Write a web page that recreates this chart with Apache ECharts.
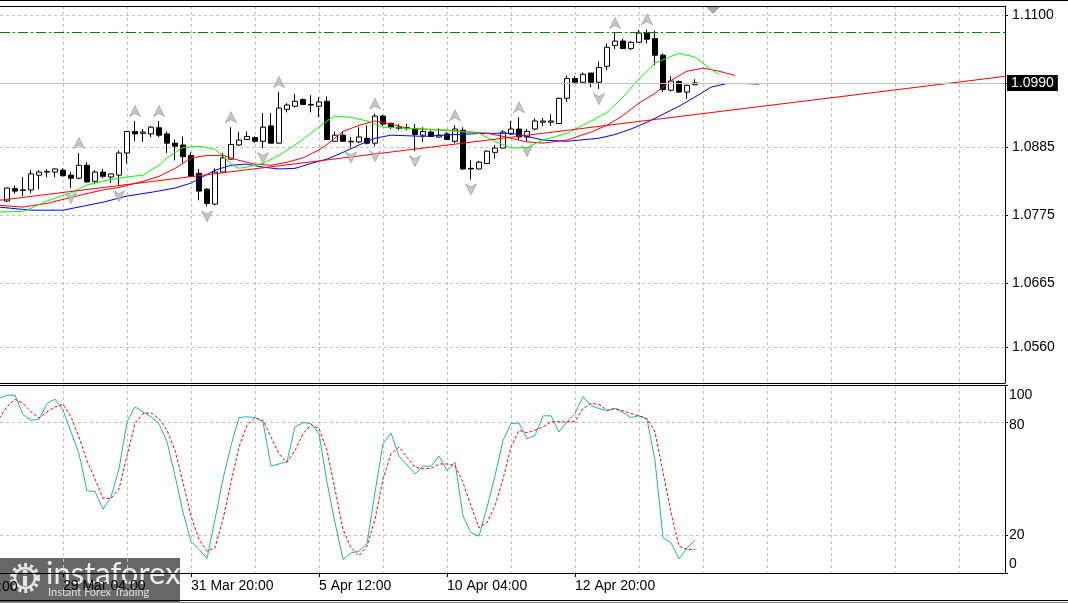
<!DOCTYPE html>
<html><head><meta charset="utf-8">
<script src="https://cdn.jsdelivr.net/npm/echarts@6/dist/echarts.min.js"></script>
<style>html,body{margin:0;padding:0;background:#fff}#c{width:1068px;height:603px}</style>
</head><body><div id="c"></div>
<script>
// ---- H4 candles (bar index 0..86) ----
const open = [
1.0798,1.0818,1.0815,1.0816,1.0840,1.0845,1.0845,1.0848,1.0840,1.0835,
1.0856,1.0830,1.0845,1.0837,1.0840,1.0876,1.0911,1.0908,1.0907,1.0917,
1.0907,1.0892,1.0889,1.0872,1.0843,1.0817,1.0793,1.0845,1.0866,1.0889,
1.0898,1.0901,1.0895,1.0920,1.0892,1.0947,1.0952,1.0963,1.0955,1.0952,
1.0960,1.0895,1.0905,1.0894,1.0894,1.0900,1.0892,1.0936,1.0924,1.0918,
1.0917,1.0916,1.0905,1.0910,1.0902,1.0907,1.0895,1.0913,1.0851,1.0850,
1.0859,1.0877,1.0884,1.0907,1.0915,1.0902,1.0915,1.0926,1.0926,1.0924,
1.0965,1.0997,1.0991,1.1006,1.0991,1.1017,1.1051,1.1058,1.1046,1.1056,
1.1071,1.1062,1.1035,1.0978,1.0992,1.0975,1.0987];
const high = [
1.0820,1.0823,1.0837,1.0848,1.0848,1.0850,1.0851,1.0851,1.0845,1.0876,
1.0861,1.0848,1.0850,1.0843,1.0880,1.0912,1.0928,1.0915,1.0920,1.0928,
1.0911,1.0898,1.0903,1.0877,1.0850,1.0819,1.0851,1.0876,1.0918,1.0910,
1.0911,1.0903,1.0941,1.0941,1.0975,1.0957,1.0972,1.0965,1.0970,1.0967,
1.0968,1.0911,1.0911,1.0902,1.0918,1.0921,1.0940,1.0938,1.0926,1.0923,
1.0923,1.0923,1.0918,1.0913,1.0916,1.0910,1.0921,1.0918,1.0864,1.0863,
1.0880,1.0889,1.0913,1.0928,1.0934,1.0915,1.0932,1.0933,1.0939,1.0966,
1.1002,1.1001,1.1007,1.1006,1.1025,1.1054,1.1071,1.1062,1.1058,1.1076,
1.1077,1.1075,1.1038,1.1001,1.0994,1.0987,1.0996];
const low = [
1.0796,1.0810,1.0806,1.0811,1.0817,1.0837,1.0837,1.0838,1.0819,1.0833,
1.0828,1.0825,1.0835,1.0827,1.0822,1.0859,1.0895,1.0894,1.0902,1.0902,
1.0876,1.0864,1.0859,1.0837,1.0799,1.0789,1.0791,1.0844,1.0865,1.0887,
1.0897,1.0892,1.0884,1.0891,1.0891,1.0942,1.0950,1.0954,1.0942,1.0934,
1.0897,1.0894,1.0894,1.0885,1.0892,1.0890,1.0887,1.0920,1.0915,1.0913,
1.0913,1.0879,1.0894,1.0902,1.0901,1.0897,1.0892,1.0849,1.0833,1.0849,
1.0858,1.0867,1.0883,1.0905,1.0897,1.0895,1.0913,1.0920,1.0920,1.0923,
1.0959,1.0989,1.0990,1.0983,1.0980,1.1011,1.1045,1.1045,1.1043,1.1055,
1.1054,1.1019,1.0975,1.0976,1.0974,1.0964,1.0986];
const close = [
1.0819,1.0814,1.0816,1.0842,1.0845,1.0846,1.0850,1.0839,1.0835,1.0856,
1.0829,1.0845,1.0838,1.0842,1.0876,1.0911,1.0907,1.0910,1.0918,1.0905,
1.0892,1.0887,1.0870,1.0838,1.0814,1.0794,1.0845,1.0868,1.0890,1.0897,
1.0903,1.0895,1.0918,1.0892,1.0949,1.0954,1.0960,1.0955,1.0954,1.0959,
1.0898,1.0905,1.0895,1.0895,1.0902,1.0892,1.0936,1.0923,1.0918,1.0916,
1.0916,1.0906,1.0911,1.0903,1.0905,1.0898,1.0915,1.0850,1.0850,1.0861,
1.0879,1.0884,1.0910,1.0915,1.0902,1.0911,1.0928,1.0928,1.0928,1.0965,
1.0997,1.0991,1.1004,1.0991,1.1015,1.1048,1.1058,1.1046,1.1056,1.1071,
1.1061,1.1035,1.0979,1.0993,1.0975,1.0986,1.0990];

// ---- Alligator (shifted lines) ----
const jawBars  = [-1,3,7,12,15,18,21,23,26,28,30,32,34,36,38,40,42,44,46,48,52,56,60,63,65,67,70,74,76,78,80,82,84,86,88,90,92,94];
const jawVals  = [1.0788,1.0783,1.0783,1.0796,1.0806,1.0812,1.0819,1.0827,1.0848,1.0856,1.0858,1.0853,1.0850,1.0851,1.0859,1.0866,1.0877,1.0889,1.0900,1.0905,1.0903,1.0906,1.0908,1.0908,1.0903,1.0897,1.0895,1.0900,1.0906,1.0915,1.0926,1.0939,1.0952,1.0967,1.0983,1.0989,1.0989,1.0988];
const teethBars = [-1,2,5,9,12,14,17,19,21,23,25,27,29,31,33,35,37,39,40,42,44,46,48,50,55,60,62,65,67,70,73,75,77,79,81,83,85,87,89,91];
const teethVals = [1.0791,1.0788,1.0794,1.0807,1.0816,1.0820,1.0830,1.0838,1.0851,1.0868,1.0872,1.0872,1.0864,1.0858,1.0856,1.0861,1.0868,1.0881,1.0890,1.0911,1.0921,1.0928,1.0923,1.0916,1.0913,1.0908,1.0903,1.0894,1.0892,1.0897,1.0910,1.0921,1.0937,1.0957,1.0973,1.0994,1.1009,1.1014,1.1009,1.1002];
const lipsBars = [-1,2,3,5,8,10,13,15,17,19,20,22,24,26,27,28,29,30,32,34,36,38,40,41,43,45,47,50,55,59,61,63,65,67,70,73,75,77,79,81,83,84,86,88,89];
const lipsVals = [1.0780,1.0781,1.0786,1.0798,1.0811,1.0824,1.0833,1.0837,1.0840,1.0856,1.0868,1.0885,1.0887,1.0882,1.0871,1.0858,1.0851,1.0853,1.0859,1.0872,1.0889,1.0908,1.0928,1.0936,1.0934,1.0928,1.0918,1.0916,1.0913,1.0908,1.0895,1.0884,1.0885,1.0897,1.0908,1.0928,1.0942,1.0967,1.0996,1.1022,1.1033,1.1038,1.1032,1.1012,1.1004];

// ---- drawn objects ----
const trendBars = [-1, 125];
const trendVals = [1.0799, 1.1001];
const levelPrice = 1.1072;
const bidPrice = 1.0990;
const fractalUpBars = [9,16,19,28,34,46,56,64,76,80];
const fractalDownBars = [8,14,25,32,43,46,51,58,65,74];

// ---- Stochastic (bar -1 .. 86) ----
const stochStart = -1;
const stochK = [
92.9,94.6,94.6,84.3,81.2,81.8,90.2,92.5,86.6,75.2,63.4,
43.7,43.4,33.9,40.4,55.4,80.4,88.4,85.7,83.1,79.5,
69.7,51.8,32.3,16.9,12.5,7.7,28.6,50.0,67.8,82.7,
83.1,82.7,80.4,56.8,58.0,59.3,77.7,80.0,79.5,74.1,
48.2,26.8,7.1,10.7,11.6,15.7,43.0,68.8,74.5,62.2,
57.5,52.7,56.8,56.8,62.2,54.4,58.9,30.3,21.4,19.6,
34.8,51.8,70.5,79.5,79.8,71.4,73.2,83.6,83.6,75.0,
80.4,84.8,93.8,89.0,87.5,86.3,87.5,85.4,82.7,83.6,
81.8,59.8,18.8,16.1,7.5,13.4,17.5];
const stochD = [
82.1,88.4,92.5,90.2,85.7,82.5,85.7,88.4,89.7,83.1,72.3,
59.8,50.0,39.7,39.7,44.6,62.5,79.5,84.8,85.2,82.1,
75.9,65.2,48.2,30.3,17.8,11.6,13.4,28.6,48.2,67.0,
78.6,82.5,81.2,72.3,63.4,58.9,65.2,74.1,78.9,76.8,
65.2,44.6,23.2,13.4,9.3,14.3,28.6,50.0,63.4,67.0,
61.6,56.3,55.4,55.7,58.0,58.0,57.1,48.2,35.7,24.1,
26.8,35.7,50.0,67.0,75.9,74.6,75.9,77.7,80.4,80.4,
80.4,80.7,87.5,90.2,89.7,86.6,87.5,86.3,84.8,83.6,
82.1,75.0,53.6,32.2,14.3,12.5,12.5];

// ---- axes ----
const priceTicks = [1.0560, 1.0665, 1.0775, 1.0885, 1.1100];
const stochTicks = [0, 20, 80, 100];
const gridBars = [7,15,23,31,39,47,55,63,71,79,87,95,103,111,119];
const timeLabelBars = [7,23,39,55,71];
const timeLabels = ['29 Mar 04:00','31 Mar 20:00','5 Apr 12:00','10 Apr 04:00','12 Apr 20:00'];
const hiddenFirstLabel = '24 Mar 12:00';

const FONT = "'Liberation Sans', Arial, sans-serif";
const xMin = -0.875, xMax = 124.75;
const gridDash = {color:'#c0c0c0', type:[3,3], width:1};

const candleData = open.map((o,i)=>[i, o, close[i], low[i], high[i]]);
const pairs = (xs, ys) => xs.map((x,i)=>[x, ys[i]]);
const stochPairs = arr => arr.map((v,j)=>[stochStart + j, v]);

const upPath = 'path://M5,0 L10,11 L5,8 L0,11 Z';
const dnPath = 'path://M0,0 L5,3 L10,0 L5,11 Z';

const chart = echarts.init(document.getElementById('c'), null, {renderer:'canvas'});
chart.setOption({
  animation: false,
  backgroundColor: '#fff',
  grid: [
    {left:0, right:63, top:6, height:377},
    {left:0, right:63, top:385, height:188}
  ],
  xAxis: [
    {gridIndex:0, type:'value', min:xMin, max:xMax,
     axisLine:{show:false, onZero:false}, axisLabel:{show:false},
     axisTick:{show:false, customValues:gridBars},
     splitLine:{show:true, lineStyle:gridDash}},
    {gridIndex:1, type:'value', min:xMin, max:xMax,
     axisLine:{show:false, onZero:false},
     axisTick:{show:false, customValues:gridBars},
     splitLine:{show:true, lineStyle:gridDash},
     axisLabel:{show:true, customValues:timeLabelBars, align:'left', margin:6,
       color:'#000', fontFamily:FONT, fontSize:14,
       formatter: v => timeLabels[timeLabelBars.indexOf(Math.round(v))] || ''}},
    {gridIndex:1, type:'value', min:xMin, max:xMax, position:'bottom',
     axisLine:{show:false, onZero:false}, axisLabel:{show:false}, splitLine:{show:false},
     axisTick:{show:true, customValues:timeLabelBars, length:4, lineStyle:{color:'#000'}}}
  ],
  yAxis: [
    {gridIndex:0, type:'value', position:'right', min:1.0502, max:1.1115, scale:true,
     axisLine:{show:true, onZero:false, lineStyle:{color:'#000'}},
     axisTick:{show:true, length:3, customValues:[...priceTicks, bidPrice], lineStyle:{color:'#000'}},
     axisLabel:{show:true, customValues:priceTicks, margin:7, color:'#000', fontFamily:FONT, fontSize:14,
       formatter: v => v.toFixed(4)},
     splitLine:{show:true, lineStyle:gridDash}},
    {gridIndex:1, type:'value', position:'right', min:0, max:100,
     axisLine:{show:true, onZero:false, lineStyle:{color:'#000'}},
     axisTick:{show:true, length:3, customValues:stochTicks, lineStyle:{color:'#000'}},
     axisLabel:{show:true, customValues:stochTicks, margin:4, color:'#000', fontFamily:FONT, fontSize:14,
       formatter: v => v === 100 ? '{t|100}' : (v === 0 ? '{b|0}' : (v === 80 ? '{m|80}' : String(v))),
       rich:{
         t:{padding:[21,0,0,0], fontFamily:FONT, fontSize:14, color:'#000'},
         m:{padding:[5,0,0,0], fontFamily:FONT, fontSize:14, color:'#000'},
         b:{padding:[0,0,18,0], fontFamily:FONT, fontSize:14, color:'#000'}
       }},
     splitLine:{show:true, lineStyle:gridDash}}
  ],
  series: [
    {type:'candlestick', name:'EURUSD H4', xAxisIndex:0, yAxisIndex:0,
     data:candleData, encode:{x:0, y:[1,2,3,4]}, barWidth:5, z:3,
     itemStyle:{color:'#fff', color0:'#000', borderColor:'#000', borderColor0:'#000', borderWidth:1},
     markLine:{symbol:'none', silent:true, animation:false, precision:4,
       data:[
         {yAxis:bidPrice, lineStyle:{color:'#c0c0c0', type:'solid', width:1},
          label:{show:true, position:'end', distance:2, formatter: bidPrice.toFixed(4),
            backgroundColor:'#000', color:'#fff', padding:[1,4,1,4], fontFamily:FONT, fontSize:14}},
         {yAxis:levelPrice, lineStyle:{color:'#008000', type:[10,3,2,3], width:1},
          label:{show:false}}
       ]}},
    {type:'line', name:'Jaw', xAxisIndex:0, yAxisIndex:0, data:pairs(jawBars, jawVals),
     symbol:'none', z:4, lineStyle:{color:'#0000ff', width:1}},
    {type:'line', name:'Teeth', xAxisIndex:0, yAxisIndex:0, data:pairs(teethBars, teethVals),
     symbol:'none', z:4, lineStyle:{color:'#ff0000', width:1}},
    {type:'line', name:'Lips', xAxisIndex:0, yAxisIndex:0, data:pairs(lipsBars, lipsVals),
     symbol:'none', z:4, lineStyle:{color:'#00ff00', width:1}},
    {type:'line', name:'Trend', xAxisIndex:0, yAxisIndex:0, data:pairs(trendBars, trendVals),
     symbol:'none', z:4, lineStyle:{color:'#ff0000', width:1}},
    {type:'scatter', name:'Fractal up', xAxisIndex:0, yAxisIndex:0,
     data:fractalUpBars.map(i=>[i, high[i]]), symbol:upPath, symbolSize:[11,11], symbolOffset:[0,-10], z:5,
     itemStyle:{color:'#b8b8b8', borderColor:'#808080', borderWidth:0.6}},
    {type:'scatter', name:'Fractal down', xAxisIndex:0, yAxisIndex:0,
     data:fractalDownBars.map(i=>[i, low[i]]), symbol:dnPath, symbolSize:[11,11], symbolOffset:[0,10], z:5,
     itemStyle:{color:'#b8b8b8', borderColor:'#808080', borderWidth:0.6}},
    {type:'line', name:'%K', xAxisIndex:1, yAxisIndex:1, data:stochPairs(stochK),
     symbol:'none', z:4, lineStyle:{color:'#20b2aa', width:1}},
    {type:'line', name:'%D', xAxisIndex:1, yAxisIndex:1, data:stochPairs(stochD),
     symbol:'none', z:4, lineStyle:{color:'#ff0000', width:1, type:[3,2]}}
  ],
  graphic: [
    // frames
    {type:'line', z:50, shape:{x1:0,y1:0.5,x2:1068,y2:0.5}, style:{stroke:'#000', lineWidth:1}},
    {type:'line', z:50, shape:{x1:0,y1:6.5,x2:1005,y2:6.5}, style:{stroke:'#000', lineWidth:1}},
    {type:'line', z:50, shape:{x1:0,y1:383.5,x2:1005,y2:383.5}, style:{stroke:'#000', lineWidth:1}},
    {type:'line', z:50, shape:{x1:0,y1:385.5,x2:1006,y2:385.5}, style:{stroke:'#000', lineWidth:1}},
    {type:'line', z:50, shape:{x1:0,y1:573.5,x2:1006,y2:573.5}, style:{stroke:'#000', lineWidth:1}},
    {type:'line', z:50, shape:{x1:0,y1:600.5,x2:1068,y2:600.5}, style:{stroke:'#000', lineWidth:1}},
    {type:'line', z:50, shape:{x1:0,y1:602.5,x2:1068,y2:602.5}, style:{stroke:'#808080', lineWidth:1}},
    // chart shift marker
    {type:'polygon', z:50, shape:{points:[[706,7],[720,7],[713,14]]}, style:{fill:'#a8a8a8'}},
    // partially hidden first time label
    {type:'text', z:40, x:-65, y:580, style:{text:hiddenFirstLabel, font:'14px ' + FONT, fill:'#000'}},
    // watermark
    {type:'group', z:60, children:[
      {type:'rect', shape:{x:0,y:558,width:180,height:45}, style:{fill:'rgba(45,45,45,0.72)'}},
      {type:'circle', shape:{cx:25,cy:578,r:13}, style:{fill:'none', stroke:'#e6e6e6', lineWidth:4, lineDash:[3,3]}},
      {type:'circle', shape:{cx:25,cy:578,r:10}, style:{fill:'none', stroke:'#e6e6e6', lineWidth:2.5}},
      {type:'circle', shape:{cx:25,cy:572,r:2.5}, style:{fill:'#e6e6e6'}},
      {type:'rect', shape:{x:23,y:576,width:4,height:10}, style:{fill:'#e6e6e6'}},
      {type:'text', x:46, y:558, style:{text:'instaforex', font:'31px Lato, sans-serif', fill:'#eeeeee'}},
      {type:'text', x:48, y:587, style:{text:'Instant Forex Trading', font:'11px Lato, sans-serif', fill:'#e0e0e0'}}
    ]}
  ]
});
</script>
</body></html>
